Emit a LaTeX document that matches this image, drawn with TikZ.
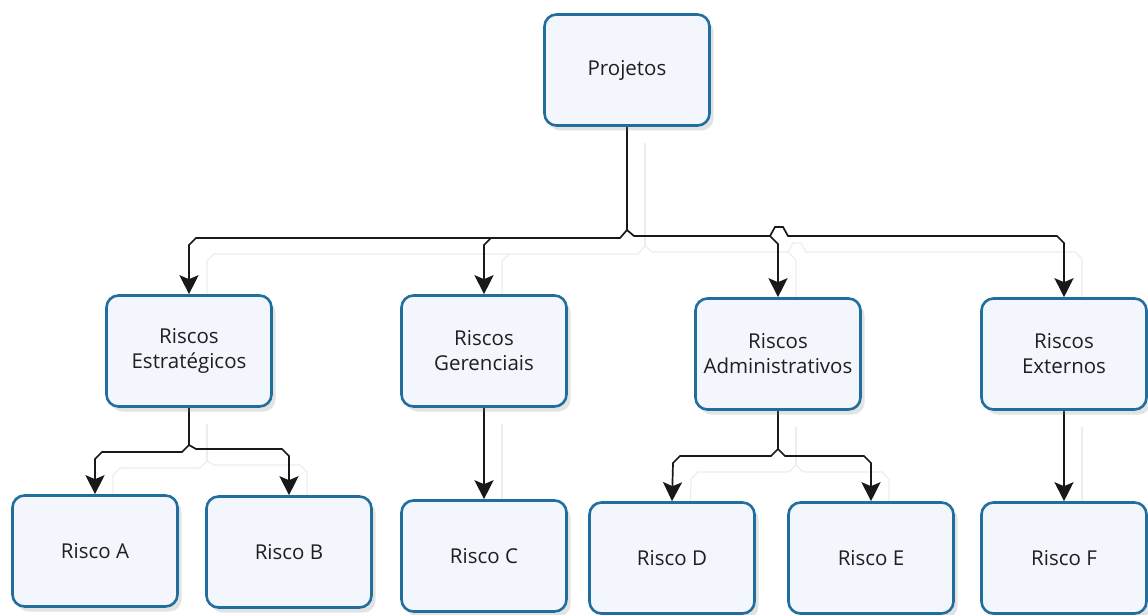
\documentclass[tikz,border=0pt]{standalone}
\usepackage{fontspec}
\setmainfont{Open Sans}
\usetikzlibrary{arrows.meta,shadows}
\pgfdeclarelayer{bg}
\pgfsetlayers{bg,main}
\definecolor{bord}{HTML}{1F6E9C}
\definecolor{fillc}{HTML}{F4F6FE}
\begin{document}
\begin{tikzpicture}[x=1pt,y=-1pt,
 box/.style={draw=bord, line width=2.6pt, rounded corners=12pt, fill=fillc,
   minimum width=165pt, minimum height=111pt, align=center,
   font=\fontsize{20.5}{25}\selectfont, text=black!88,
   drop shadow={shadow xshift=4pt, shadow yshift=-5pt, opacity=0.22}},
 conn/.style={line width=1.7pt, black!90,
   preaction={draw=black!7, line width=1.2pt, arrows=-, transform canvas={shift={(18pt,-16pt)}}}},
 tip/.style={-{Stealth[length=19pt,width=19pt,inset=4pt]}}
]
\useasboundingbox (0,0) rectangle (1148,615);

% nodes
\node[box] (P)  at (627,70)  {Projetos};
\node[box] (S)  at (189,351) {Riscos\\Estratégicos};
\node[box] (G)  at (484,351) {Riscos\\Gerenciais};
\node[box] (A)  at (778,354) {Riscos\\Administrativos};
\node[box] (X)  at (1064,354) {Riscos\\Externos};
\node[box] (RA) at (95,551)  {Risco A};
\node[box] (RB) at (289,552) {Risco B};
\node[box] (RC) at (484,556) {Risco C};
\node[box] (RD) at (672,558) {Risco D};
\node[box] (RE) at (871,558) {Risco E};
\node[box] (RF) at (1064,558) {Risco F};

% junctions
\coordinate (j0) at (627,230);
\coordinate (jG) at (491,238);
\coordinate (jA) at (770,236);
\coordinate (j1) at (189,445);
\coordinate (j2) at (778,449);

\begin{pgfonlayer}{bg}
% level 1
\draw[conn] (P.south) -- (j0);
\draw[conn,tip] (j0) -- (620,238) -- (196,238) -- (189,245) -- (S.north);
\draw[conn,tip] (jG) -- (484,245) -- (G.north);
\draw[conn,tip] (j0) -- (634,236) -- (jA) -- (775,227) -- (783,227) -- (788,236) -- (1057,236) -- (1064,243) -- (X.north);
\draw[conn,tip] (jA) -- (778,244) -- (A.north);

% level 2
\draw[conn] (S.south) -- (j1);
\draw[conn,tip] (j1) -- (182,452) -- (102,452) -- (95,459) -- (RA.north);
\draw[conn,tip] (j1) -- (196,449) -- (282,449) -- (289,456) -- (RB.north);
\draw[conn,tip] (G.south) -- (RC.north);
\draw[conn] (A.south) -- (j2);
\draw[conn,tip] (j2) -- (771,456) -- (680,456) -- (673,463) -- (RD.north);
\draw[conn,tip] (j2) -- (785,456) -- (864,456) -- (871,463) -- (RE.north);
\draw[conn,tip] (X.south) -- (RF.north);
\end{pgfonlayer}
\end{tikzpicture}
\end{document}
